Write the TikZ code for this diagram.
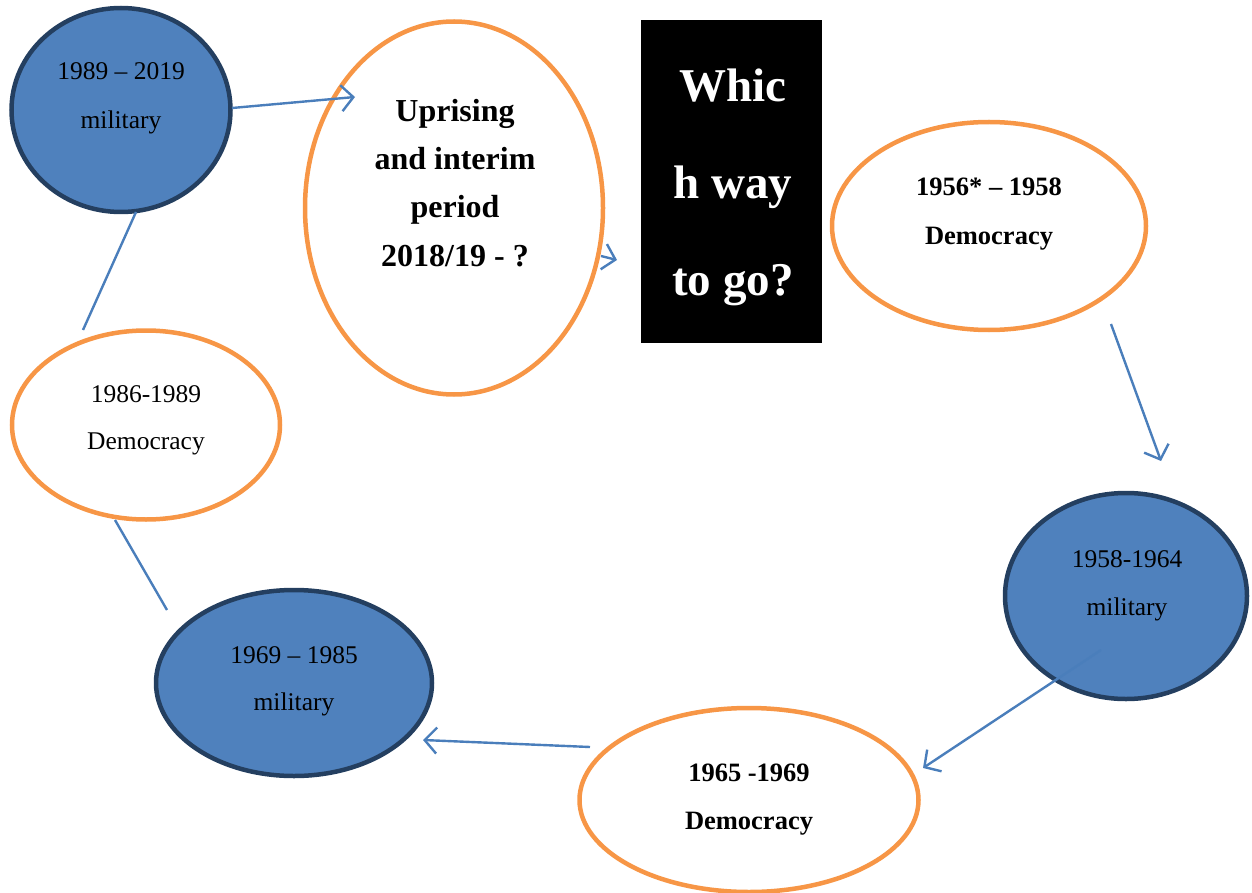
\documentclass[tikz,border=0pt]{standalone}
\usepackage{fontspec}
\setmainfont{Liberation Serif}
\usetikzlibrary{shapes.geometric,arrows.meta}
\definecolor{mblue}{HTML}{4F81BD}
\definecolor{mnavy}{HTML}{243F60}
\definecolor{morange}{HTML}{F79646}
\definecolor{mline}{HTML}{4A7EBB}
\tikzset{
  milit/.style={ellipse,draw=mnavy,fill=mblue,line width=4.5pt,inner sep=0pt},
  demo/.style={ellipse,draw=morange,fill=white,line width=4.5pt,inner sep=0pt},
  reg/.style={font=\fontsize{25.5}{30}\selectfont,inner sep=0pt,anchor=base},
  bld/.style={font=\fontsize{26.5}{31}\selectfont\bfseries,inner sep=0pt,anchor=base},
  big/.style={font=\fontsize{32}{38}\selectfont\bfseries,inner sep=0pt,anchor=base},
  huge/.style={font=\fontsize{47}{56}\selectfont\bfseries,text=white,inner sep=0pt,anchor=base},
  conn/.style={draw=mline,line width=2.4pt},
  arr/.style={conn,-{Straight Barb[length=12pt,width=26pt,line width=2.4pt]}}
}
\begin{document}
\begin{tikzpicture}[x=1pt,y=-1pt]
\useasboundingbox (0,0) rectangle (1252,893);
% shapes
\node[milit,minimum width=219pt,minimum height=204pt] (m1) at (121,110) {};
\node[demo,minimum width=298pt,minimum height=373pt] (up) at (454,208) {};
\node[fill=black,minimum width=181pt,minimum height=323pt,inner sep=0pt] (bx) at (731.5,181.5) {};
\node[demo,minimum width=314pt,minimum height=208pt] (d1) at (989,226) {};
\node[milit,minimum width=242pt,minimum height=206pt] (m2) at (1126,596) {};
\node[demo,minimum width=339pt,minimum height=184pt] (d2) at (749,800) {};
\node[milit,minimum width=276pt,minimum height=186pt] (m3) at (294,683) {};
\node[demo,minimum width=268pt,minimum height=189pt] (d3) at (146,425) {};
% texts
\node[reg] (t1a) at (121,80) {1989 -- 2019};
\node[reg] (t1b) at (121,129) {military};
\node[big] (u1) at (455,122) {Uprising};
\node[big] (u2) at (455,170) {and interim};
\node[big] (u3) at (455,218) {period};
\node[big] (u4) at (455,266) {2018/19 - ?};
\node[huge] (w1) at (733,102) {Whic};
\node[huge] (w2) at (733,199) {h way};
\node[huge] (w3) at (733,295) {to go?};
\node[bld] (t2a) at (989,196) {1956* -- 1958};
\node[bld] (t2b) at (989,244) {Democracy};
\node[reg] (t3a) at (1127,567) {1958-1964};
\node[reg] (t3b) at (1127,615) {military};
\node[bld] (t4a) at (749,781) {1965 -1969};
\node[bld] (t4b) at (749,829) {Democracy};
\node[reg] (t5a) at (294,663) {1969 -- 1985};
\node[reg] (t5b) at (294,710) {military};
\node[reg] (t6a) at (146,402) {1986-1989};
\node[reg] (t6b) at (146,449) {Democracy};
% connector endpoints
\coordinate (a1s) at (232,108);
\coordinate (a1e) at (355,97);
\coordinate (a2s) at (601,256);
\coordinate (a2e) at (617,260);
\coordinate (a3s) at (1111,324);
\coordinate (a3e) at (1161,461);
\coordinate (a4s) at (1101,650);
\coordinate (a4e) at (923,768);
\coordinate (a5s) at (590,747);
\coordinate (a5e) at (423,740);
\coordinate (l1s) at (167,610);
\coordinate (l1e) at (115,520);
\coordinate (l2s) at (83,330);
\coordinate (l2e) at (136,212);
% connectors
\draw[arr] (a1s) -- (a1e);
\draw[arr] (a2s) -- (a2e);
\draw[arr] (a3s) -- (a3e);
\draw[arr] (a4s) -- (a4e);
\draw[arr] (a5s) -- (a5e);
\draw[conn] (l1s) -- (l1e);
\draw[conn] (l2s) -- (l2e);
\end{tikzpicture}
\end{document}
